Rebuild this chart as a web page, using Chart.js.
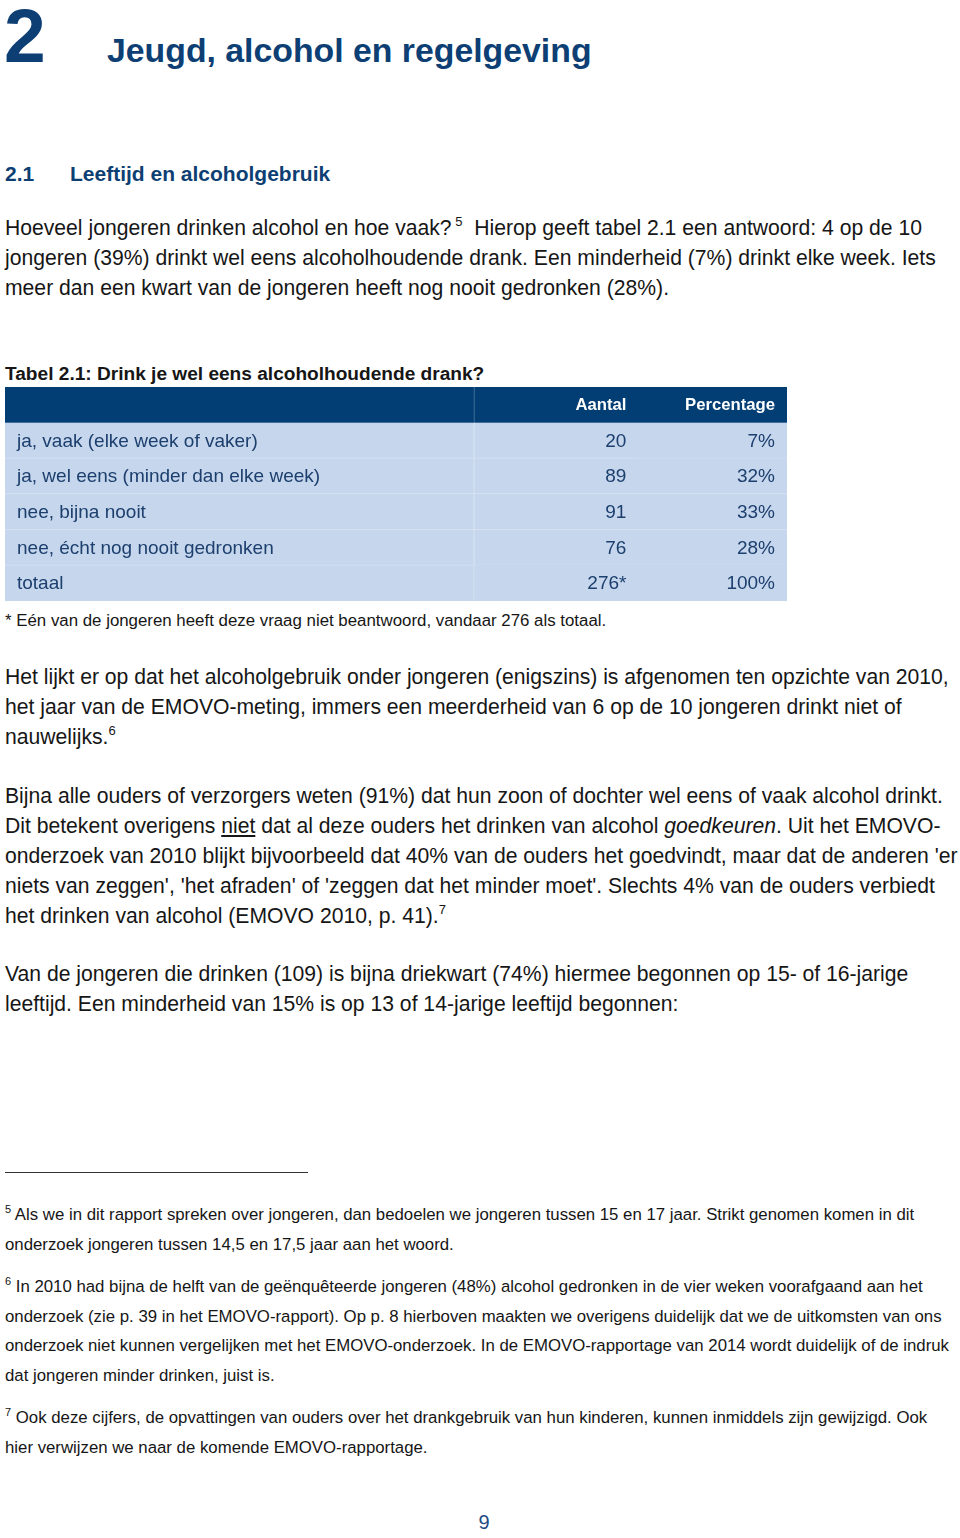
<!DOCTYPE html>
<html lang="nl">
<head>
<meta charset="UTF-8">
<title>Jeugd, alcohol en regelgeving</title>
<script src="https://cdn.jsdelivr.net/npm/chart.js"></script>
<style>
    @font-face {
        font-family: "ChapNum";
        src: local("Liberation Sans Bold"), local("LiberationSans-Bold");
        font-weight: bold;
        ascent-override: 75%;
        descent-override: 21%;
    }
    body {
        margin: 0;
        background: #fff;
        font-family: "Liberation Sans", Arial, sans-serif;
        color: #161616;
    }
    .page {
        position: relative;
        width: 960px;
        height: 1538px;
        overflow: hidden;
    }
    .abs { position: absolute; white-space: nowrap; }
    .chapnum { left: 4px; top: 7px; font-family: "ChapNum", "Liberation Sans", Arial, sans-serif; font-size: 75px; line-height: 70px; font-weight: bold; color: #0d3f74; }
    .chaptitle { left: 107px; top: 33px; font-size: 33.8px; line-height: 34px; font-weight: bold; color: #0d3f74; }
    .section { left: 5px; top: 159px; font-size: 21px; line-height: 30px; font-weight: bold; color: #0d3f74; }
    .section span { position: absolute; left: 65px; }
    .para { left: 5px; font-size: 21.15px; line-height: 30px; }
    sup { font-size: 13px; line-height: 0; vertical-align: 9px; }
    .tabtitle { left: 5px; top: 362px; font-size: 19.1px; line-height: 24px; font-weight: bold; }
    .tabnote { left: 5px; top: 611px; font-size: 16.85px; line-height: 20px; }
    .rule { left: 5px; top: 1172px; width: 303px; border-top: 1px solid #333; }
    .foot { left: 5px; font-size: 16.8px; line-height: 29.7px; }
    .foot sup { font-size: 11px; vertical-align: 7px; }
    .pagenum { left: 0; width: 968px; text-align: center; top: 1510px; font-size: 20px; line-height: 24px; color: #1f4c85; }
    #tableBox { position: absolute; left: 5px; top: 387px; width: 782px; height: 214px; }
</style>
</head>
<body>
<div class="page">
    <div class="abs chapnum">2</div>
    <div class="abs chaptitle">Jeugd, alcohol en regelgeving</div>
    <div class="abs section">2.1<span>Leeftijd en alcoholgebruik</span></div>

    <div class="abs para" style="top:213px">
        Hoeveel jongeren drinken alcohol en hoe vaak?<sup>&nbsp;5</sup>&nbsp; Hierop geeft tabel 2.1 een antwoord: 4 op de 10<br>
        jongeren (39%) drinkt wel eens alcoholhoudende drank. Een minderheid (7%) drinkt elke week. Iets<br>
        meer dan een kwart van de jongeren heeft nog nooit gedronken (28%).
    </div>

    <div class="abs tabtitle">Tabel 2.1: Drink je wel eens alcoholhoudende drank?</div>
    <div id="tableBox"><canvas id="tabelChart"></canvas></div>
    <div class="abs tabnote">* Eén van de jongeren heeft deze vraag niet beantwoord, vandaar 276 als totaal.</div>

    <div class="abs para" style="top:662px">
        Het lijkt er op dat het alcoholgebruik onder jongeren (enigszins) is afgenomen ten opzichte van 2010,<br>
        het jaar van de EMOVO-meting, immers een meerderheid van 6 op de 10 jongeren drinkt niet of<br>
        nauwelijks.<sup>6</sup>
    </div>

    <div class="abs para" style="top:781px">
        Bijna alle ouders of verzorgers weten (91%) dat hun zoon of dochter wel eens of vaak alcohol drinkt.<br>
        Dit betekent overigens <u>niet</u> dat al deze ouders het drinken van alcohol <i>goedkeuren</i>. Uit het EMOVO-<br>
        onderzoek van 2010 blijkt bijvoorbeeld dat 40% van de ouders het goedvindt, maar dat de anderen 'er<br>
        niets van zeggen', 'het afraden' of 'zeggen dat het minder moet'. Slechts 4% van de ouders verbiedt<br>
        het drinken van alcohol (EMOVO 2010, p. 41).<sup>7</sup>
    </div>

    <div class="abs para" style="top:959px">
        Van de jongeren die drinken (109) is bijna driekwart (74%) hiermee begonnen op 15- of 16-jarige<br>
        leeftijd. Een minderheid van 15% is op 13 of 14-jarige leeftijd begonnen:
    </div>

    <div class="abs rule"></div>

    <div class="abs foot" style="top:1200px">
        <sup>5</sup> Als we in dit rapport spreken over jongeren, dan bedoelen we jongeren tussen 15 en 17 jaar. Strikt genomen komen in dit<br>
        onderzoek jongeren tussen 14,5 en 17,5 jaar aan het woord.
    </div>
    <div class="abs foot" style="top:1272px">
        <sup>6</sup> In 2010 had bijna de helft van de geënquêteerde jongeren (48%) alcohol gedronken in de vier weken voorafgaand aan het<br>
        onderzoek (zie p. 39 in het EMOVO-rapport). Op p. 8 hierboven maakten we overigens duidelijk dat we de uitkomsten van ons<br>
        onderzoek niet kunnen vergelijken met het EMOVO-onderzoek. In de EMOVO-rapportage van 2014 wordt duidelijk of de indruk<br>
        dat jongeren minder drinken, juist is.
    </div>
    <div class="abs foot" style="top:1403px">
        <sup>7</sup> Ook deze cijfers, de opvattingen van ouders over het drankgebruik van hun kinderen, kunnen inmiddels zijn gewijzigd. Ook<br>
        hier verwijzen we naar de komende EMOVO-rapportage.
    </div>

    <div class="abs pagenum">9</div>
</div>

<script>
    // Tabel 2.1 - gegevens
    const categories = ['ja, vaak (elke week of vaker)', 'ja, wel eens (minder dan elke week)', 'nee, bijna nooit', 'nee, écht nog nooit gedronken', 'totaal'];
    const columnHeaders = ['', 'Aantal', 'Percentage'];
    const aantal = [20, 89, 91, 76, 276];
    const aantalNote = ['', '', '', '', '*'];
    const percentage = [7, 32, 33, 28, 100];

    // Kolomgrenzen op de x-as (0-100) en rijen: kopregel + categorieën
    const colBounds = [[0, 60], [60, 81], [81, 100]];
    const rows = ['kop'].concat(categories);

    const headerBlue = '#023e74';
    const cellBlue = '#c6d6ec';
    const textBlue = '#1c3f6e';

    function cellColor(ctx) { return ctx.dataIndex === 0 ? headerBlue : cellBlue; }
    function lineColor(ctx) { return ctx.dataIndex === 0 ? '#24578a' : '#d8e3f2'; }

    // eerste kolom krijgt een scheidingslijn rechts; de getallenkolommen lopen
    // door tot de rand zodat er tussen Aantal en Percentage geen naad zichtbaar is
    const datasets = colBounds.map((b, c) => ({
        label: columnHeaders[c] || 'categorie',
        data: rows.map(() => [b[0], c === 0 ? b[1] : 100]),
        backgroundColor: cellColor,
        borderColor: lineColor,
        borderSkipped: false,
        borderWidth: ctx => ({
            bottom: ctx.dataIndex < rows.length - 1 ? 1 : 0,
            right: c === 0 ? 1 : 0
        }),
        grouped: false,
        barPercentage: 1,
        categoryPercentage: 1
    }));

    // Tekst in de cellen
    const cellText = {
        id: 'cellText',
        afterDatasetsDraw(chart) {
            const ctx = chart.ctx;
            const x = chart.scales.x;
            const y = chart.scales.y;
            const pad = 12;
            ctx.save();
            ctx.textBaseline = 'middle';

            // kopregel
            ctx.fillStyle = '#ffffff';
            ctx.font = 'bold 16.7px "Liberation Sans", Arial, sans-serif';
            ctx.textAlign = 'right';
            for (let c = 1; c < columnHeaders.length; c++) {
                ctx.fillText(columnHeaders[c], x.getPixelForValue(colBounds[c][1]) - pad, y.getPixelForValue(0) + 1);
            }

            // rijen
            ctx.fillStyle = textBlue;
            ctx.font = '19px "Liberation Sans", Arial, sans-serif';
            categories.forEach((cat, i) => {
                const yy = y.getPixelForValue(i + 1) + 1;
                ctx.textAlign = 'left';
                ctx.fillText(cat, x.getPixelForValue(colBounds[0][0]) + pad, yy);
                ctx.textAlign = 'right';
                ctx.fillText(aantal[i] + aantalNote[i], x.getPixelForValue(colBounds[1][1]) - pad, yy);
                ctx.fillText(percentage[i] + '%', x.getPixelForValue(colBounds[2][1]) - pad, yy);
            });
            ctx.restore();
        }
    };

    new Chart(document.getElementById('tabelChart'), {
        type: 'bar',
        data: { labels: rows, datasets: datasets },
        options: {
            indexAxis: 'y',
            responsive: true,
            maintainAspectRatio: false,
            animation: false,
            layout: { padding: 0 },
            scales: {
                x: { type: 'linear', min: 0, max: 100, display: false },
                y: { type: 'category', display: false, grid: { display: false } }
            },
            plugins: {
                legend: { display: false },
                tooltip: { enabled: false }
            }
        },
        plugins: [cellText]
    });
</script>
</body>
</html>
